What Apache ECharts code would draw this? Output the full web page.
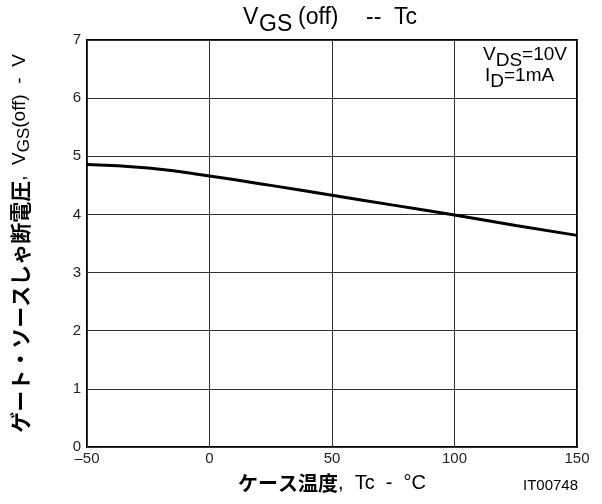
<!DOCTYPE html>
<html><head><meta charset="utf-8">
<script src="https://cdn.jsdelivr.net/npm/echarts@6/dist/echarts.min.js"></script>
<style>html,body{margin:0;padding:0;background:#fff}#c{width:602px;height:504px}</style>
</head><body><div id="c"></div>
<script>
var temps = [-50, -25, 0, 25, 50, 75, 100, 125, 150];
var vgsOff = [4.86, 4.80, 4.66, 4.50, 4.33, 4.16, 3.99, 3.81, 3.64];
var xTicks = [-50, 0, 50, 100, 150];
var yTicks = [0, 1, 2, 3, 4, 5, 6, 7];

var FONT = '"Liberation Sans", Arial, sans-serif';
var JP = '"Noto Sans CJK JP", sans-serif';
function tok(size, lh, va, w) {
  var o = {fontFamily: FONT, fontSize: size, fontWeight: 'normal', color: '#000', fill: '#000', lineHeight: lh, verticalAlign: va};
  if (w) o.width = w;
  return o;
}
var chart = echarts.init(document.getElementById('c'));
chart.setOption({
  animation: false,
  backgroundColor: '#fff',
  title: {
    text: '{v|V}{g|GS}{p|(off)}{d|--}{t|Tc}',
    left: 243, top: 6, padding: 0,
    textStyle: {
      rich: {
        v: tok(23, 30, 'top', 16),
        g: tok(23, 30, 'bottom', 39),
        p: tok(23, 30, 'top', 68),
        d: tok(23, 30, 'top', 28),
        t: tok(23, 30, 'top')
      }
    }
  },
  grid: {left: 87, right: 25, top: 40, bottom: 57, outerBoundsMode: 'none', show: true, borderColor: '#000', borderWidth: 2, backgroundColor: 'transparent'},
  xAxis: {
    type: 'value', min: -50, max: 150, interval: 50,
    axisLine: {show: false}, axisTick: {show: false},
    splitLine: {show: true, lineStyle: {color: '#333', width: 1}},
    axisLabel: {fontFamily: FONT, fontSize: 15, color: '#222', margin: 4,
      formatter: function (v) { return String(v).replace('-', '\u2013'); }},
    name: '{j|ケース温度}{n|,  Tc  -  °C}',
    nameLocation: 'middle', nameGap: 24,
    nameTextStyle: {
      rich: {
        j: {fontFamily: JP, fontSize: 20, fontWeight: 'bold', color: '#000', lineHeight: 24},
        n: {fontFamily: FONT, fontSize: 20, color: '#000', lineHeight: 24}
      }
    }
  },
  yAxis: {
    type: 'value', min: 0, max: 7, interval: 1,
    axisLine: {show: false}, axisTick: {show: false},
    splitLine: {show: true, lineStyle: {color: '#333', width: 1}},
    axisLabel: {fontFamily: FONT, fontSize: 15, color: '#222', margin: 6, padding: [0, 0, 6, 0]},
    name: '{j|ゲート・ソースしゃ断電圧}{n|,  V}{s|GS}{n|(off)  -  V}',
    nameLocation: 'middle', nameGap: 54, nameRotate: 90,
    nameTextStyle: {
      rich: {
        j: {fontFamily: JP, fontSize: 21, fontWeight: 'bold', color: '#000', lineHeight: 26, verticalAlign: 'middle'},
        n: {fontFamily: FONT, fontSize: 19, color: '#000', lineHeight: 26, verticalAlign: 'middle'},
        s: {fontFamily: FONT, fontSize: 17, color: '#000', lineHeight: 26, verticalAlign: 'bottom'}
      }
    }
  },
  graphic: [
    {type: 'text', left: 483, top: 45, style: {
      text: '{n|V}{s|DS}{n|=10V}',
      rich: {n: tok(19, 25, 'top'), s: tok(19, 25, 'bottom')}}},
    {type: 'text', left: 485, top: 66, style: {
      text: '{n|I}{s|D}{n|=1mA}',
      rich: {n: tok(19, 25, 'top'), s: tok(19, 25, 'bottom')}}},
    {type: 'text', left: 523, top: 478, style: {text: 'IT00748', fontFamily: FONT, fontSize: 15, fill: '#000'}}
  ],
  series: [{
    type: 'line', data: temps.map(function (t, i) { return [t, vgsOff[i]]; }),
    smooth: true, showSymbol: false,
    lineStyle: {color: '#000', width: 3}
  }]
});
</script></body></html>
